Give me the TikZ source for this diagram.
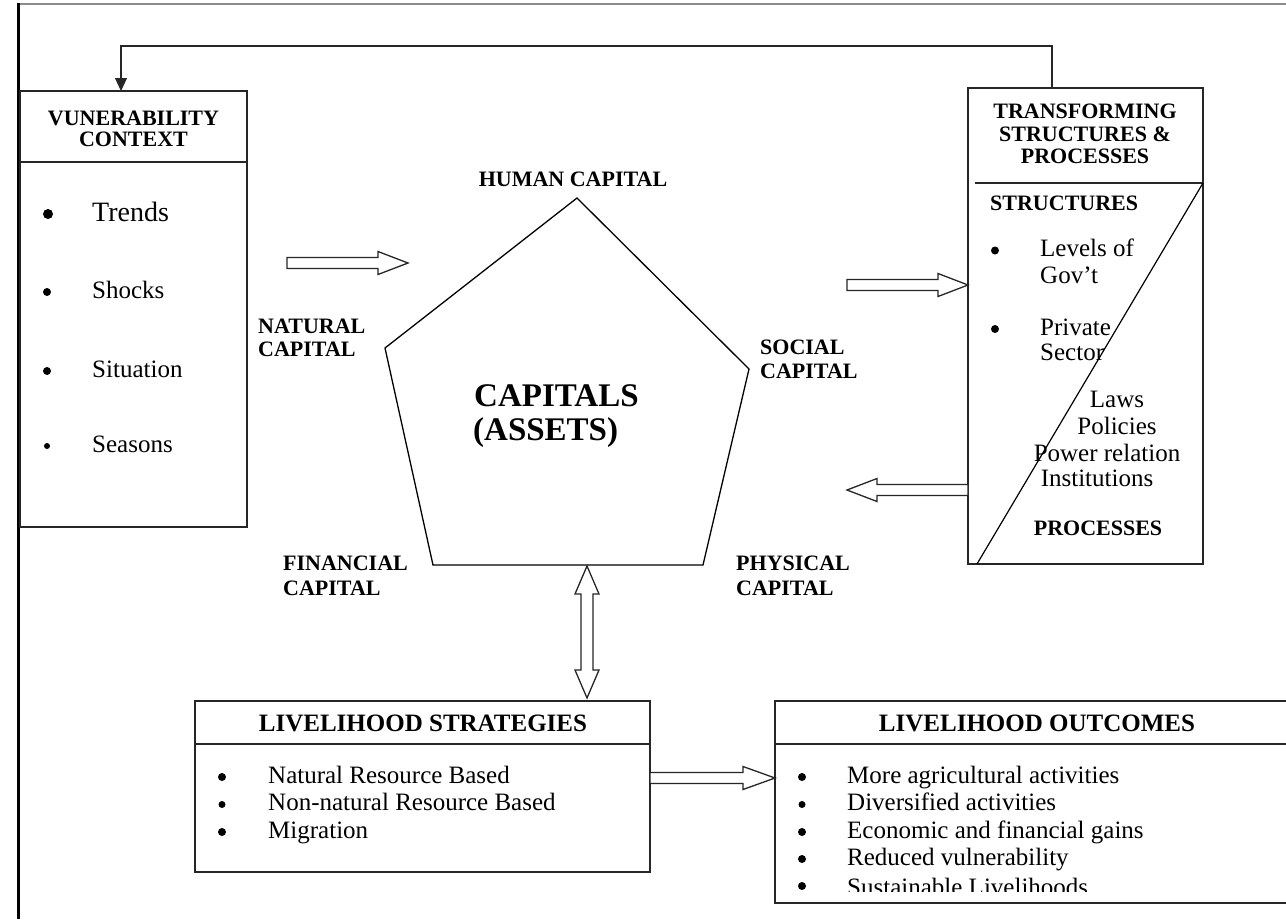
\documentclass[tikz,border=0pt]{standalone}
\usepackage{fontspec}
\setmainfont{Liberation Serif}
\usetikzlibrary{calc,arrows.meta}
\tikzset{
 boxnode/.style={draw=black!85, line width=1.6pt, inner sep=0pt, outer sep=0pt, anchor=north west},
 rulel/.style={draw=black!85, line width=1.6pt},
 hd/.style={font=\bfseries\fontsize{22}{22}\selectfont, inner sep=0pt, anchor=base},
 hdl/.style={font=\bfseries\fontsize{22}{22}\selectfont, inner sep=0pt, anchor=base west},
 bighd/.style={font=\bfseries\fontsize{25}{25}\selectfont, inner sep=0pt, anchor=base},
 capt/.style={font=\bfseries\fontsize{33}{33}\selectfont, inner sep=0pt, anchor=base west},
 itm/.style={font=\fontsize{25}{25}\selectfont, inner sep=0pt, anchor=base west},
 itc/.style={font=\fontsize{25}{25}\selectfont, inner sep=0pt, anchor=base},
 dot/.style={circle, fill=black, draw=none, inner sep=0pt, minimum size=8pt, yshift=6pt},
 hollow/.style={draw=black!85, line width=1.3pt, fill=white, line join=miter},
 fbline/.style={draw=black!85, line width=1.2pt, -{Triangle[length=13pt,width=12pt]}},
 pent/.style={draw=black, line width=1.3pt, line join=miter},
}
% single hollow block arrow: from, to, shaft half width, head length, head half width
\newcommand{\blockarrow}[5]{%
 \coordinate (hA) at (#1); \coordinate (hB) at (#2);
 \coordinate (hH) at ($(hB)!#4!(hA)$);
 \draw[hollow] ($(hA)!#3!90:(hB)$) -- ($(hH)!#3!90:(hB)$) -- ($(hH)!#5!90:(hB)$) -- (hB)
   -- ($(hH)!#5!-90:(hB)$) -- ($(hH)!#3!-90:(hB)$) -- ($(hA)!#3!-90:(hB)$) -- cycle;
}
% double hollow block arrow
\newcommand{\dblarrow}[5]{%
 \coordinate (dA) at (#1); \coordinate (dB) at (#2);
 \coordinate (dM) at ($(dA)!#4!(dB)$); \coordinate (dN) at ($(dB)!#4!(dA)$);
 \draw[hollow] (dA) -- ($(dM)!#5!90:(dB)$) -- ($(dM)!#3!90:(dB)$) -- ($(dN)!#3!90:(dB)$)
   -- ($(dN)!#5!90:(dB)$) -- (dB) -- ($(dN)!#5!-90:(dB)$) -- ($(dN)!#3!-90:(dB)$)
   -- ($(dM)!#3!-90:(dB)$) -- ($(dM)!#5!-90:(dB)$) -- cycle;
}
\begin{document}
\begin{tikzpicture}[x=1pt,y=-1pt]
\path[use as bounding box, fill=white] (0,0) rectangle (1286,919);

% outer frame
\draw[black!45, line width=1.5pt] (18,4) -- (1286,4);
\draw[black, line width=3pt] (18,3) -- (18,919);

% boxes
\node[boxnode, minimum width=227pt, minimum height=436pt] (vul) at (20,91) {};
\node[boxnode, minimum width=235pt, minimum height=476pt] (tsp) at (968,88) {};
\node[boxnode, minimum width=455pt, minimum height=171pt] (str) at (195,701) {};
\node[boxnode, minimum width=540pt, minimum height=202pt] (out) at (775,701) {};

% header rules
\draw[rulel] ($(vul.north west)+(0,71)$) -- ($(vul.north east)+(0,71)$);
\draw[black!85, line width=1.3pt] ($(tsp.north west)+(7,95)$) -- ($(tsp.north east)+(0,95)$);
\draw[black, line width=1.2pt] ($(tsp.north east)+(0,95)$) -- ($(tsp.south west)+(9,0)$);
\draw[rulel] ($(str.north west)+(0,43)$) -- ($(str.north east)+(0,43)$);
\draw[rulel] ($(out.north west)+(0,43)$) -- ($(out.north east)+(0,43)$);

% vulnerability context
\node[hd] (vh1) at (133.5,125) {VUNERABILITY};
\node[hd] (vh2) at (133.5,146.5) {CONTEXT};
\node[dot, minimum size=10pt, yshift=1pt] (vb1) at (48,221) {};
\node[itm, font=\fontsize{28}{28}\selectfont] (vt1) at (92,221) {Trends};
\node[dot] (vb2) at (47,298) {};
\node[itm] (vt2) at (92,298) {Shocks};
\node[dot] (vb3) at (47,377) {};
\node[itm] (vt3) at (92,377) {Situation};
\node[dot, minimum size=6pt] (vb4) at (47,452) {};
\node[itm] (vt4) at (92,452) {Seasons};

% transforming structures & processes
\node[hd] (th1) at (1085,118) {TRANSFORMING};
\node[hd] (th2) at (1085,141.5) {STRUCTURES \&};
\node[hd] (th3) at (1085,163.5) {PROCESSES};
\node[hdl] (ts) at (990,210) {STRUCTURES};
\node[dot] (tb1) at (995,256.5) {};
\node[itm] (tl1) at (1040,256.5) {Levels of};
\node[itm] (tl2) at (1040,283) {Gov’t};
\node[dot] (tb2) at (995,335) {};
\node[itm] (tp1) at (1040,335) {Private};
\node[itm] (tp2) at (1040,360) {Sector};
\node[itc] (tw1) at (1117,407.5) {Laws};
\node[itc] (tw2) at (1117,434) {Policies};
\node[itc] (tw3) at (1107,461) {Power relation};
\node[itc] (tw4) at (1097,486) {Institutions};
\node[hd] (tpr) at (1098,535) {PROCESSES};

% pentagon
\coordinate (pT) at (577,198);
\coordinate (pR) at (749,369);
\coordinate (pBR) at (703,565);
\coordinate (pBL) at (433,565);
\coordinate (pL) at (385,348);
\draw[pent] (pT) -- (pR) -- (pBR) -- (pBL) -- (pL) -- cycle;
\node[capt] (c1) at (474,406.5) {CAPITALS};
\node[capt] (c2) at (473,440) {(ASSETS)};

\node[hd] (lh) at (573,186.5) {HUMAN CAPITAL};
\node[hdl] (ln1) at (258,333.5) {NATURAL};
\node[hdl] (ln2) at (258,356.5) {CAPITAL};
\node[hdl] (ls1) at (760,354) {SOCIAL};
\node[hdl] (ls2) at (760,378) {CAPITAL};
\node[hdl] (lf1) at (283,570.5) {FINANCIAL};
\node[hdl] (lf2) at (283,595) {CAPITAL};
\node[hdl] (lp1) at (736,570.5) {PHYSICAL};
\node[hdl] (lp2) at (736,595) {CAPITAL};

% livelihood strategies
\node[bighd] (sh) at (423,731.5) {LIVELIHOOD STRATEGIES};
\node[dot] (sb1) at (222,783) {};
\node[itm] (st1) at (268,783) {Natural Resource Based};
\node[dot, minimum size=7pt] (sb2) at (222,810.5) {};
\node[itm] (st2) at (268,810.5) {Non-natural Resource Based};
\node[dot] (sb3) at (222,838) {};
\node[itm] (st3) at (268,838) {Migration};

% livelihood outcomes
\node[bighd] (oh) at (1037,731.5) {LIVELIHOOD OUTCOMES};
\node[dot] (ob1) at (802,783) {};
\node[itm] (ot1) at (847,783) {More agricultural activities};
\node[dot, minimum size=7pt] (ob2) at (802,810.5) {};
\node[itm] (ot2) at (847,810.5) {Diversified activities};
\node[dot] (ob3) at (802,838) {};
\node[itm] (ot3) at (847,838) {Economic and financial gains};
\node[dot] (ob4) at (802,865) {};
\node[itm] (ot4) at (847,865) {Reduced vulnerability};
\node[dot] (ob5) at (802,892) {};
\begin{scope}
\clip (780,860) rectangle (1286,891.5);
\node[itm] (ot5) at (847,895) {Sustainable Livelihoods};
\end{scope}

% feedback line
\coordinate (fbR) at (1052,46);
\coordinate (fbL) at (121,46);
\draw[fbline] (tsp.north -| fbR) -- (fbR) -- (fbL) -- (vul.north -| fbL);

% hollow arrows
\coordinate (h1s) at (287,263);
\coordinate (h1e) at (408,263);
\blockarrow{h1s}{h1e}{5.5pt}{30pt}{11.5pt}
\coordinate (h2s) at (847,285);
\coordinate (h2e) at (h2s -| tsp.west);
\blockarrow{h2s}{h2e}{5.5pt}{30pt}{11.5pt}
\coordinate (h3e) at (847,490);
\coordinate (h3s) at (h3e -| tsp.west);
\blockarrow{h3s}{h3e}{5.5pt}{30pt}{11.5pt}
\coordinate (h4s) at (650,778);
\coordinate (h4e) at (h4s -| out.west);
\blockarrow{h4s}{h4e}{5.5pt}{32pt}{11.5pt}
\coordinate (dTop) at (587,566);
\coordinate (dBot) at ($(dTop |- str.north)+(0,-3)$);
\dblarrow{dTop}{dBot}{6pt}{28pt}{12pt}
\end{tikzpicture}
\end{document}
